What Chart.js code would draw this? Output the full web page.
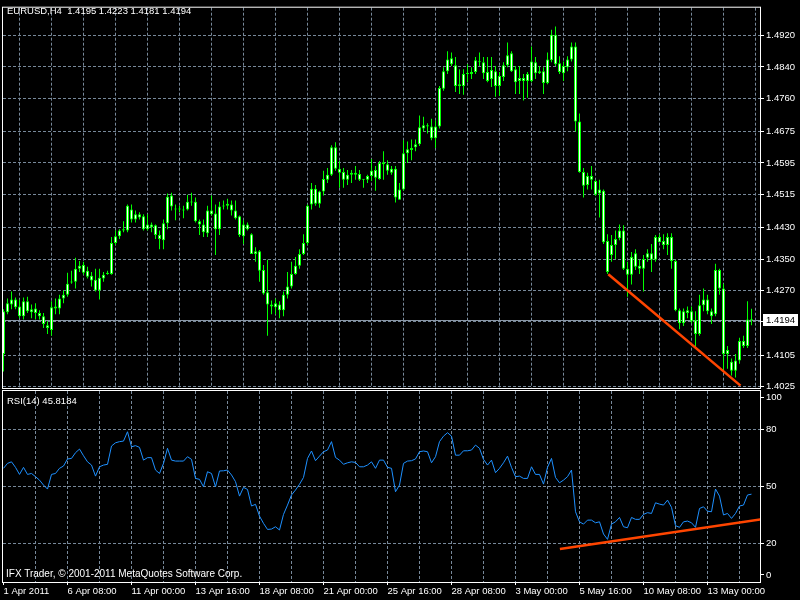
<!DOCTYPE html>
<html>
<head>
<meta charset="utf-8">
<script src="https://cdn.jsdelivr.net/npm/chart.js@4.4.0/dist/chart.umd.min.js"></script>
<style>
html,body{margin:0;padding:0;background:#000;}
#wrap{position:relative;width:800px;height:600px;background:#000;overflow:hidden;font-family:"Liberation Sans",Arial,sans-serif;}
canvas{position:absolute;left:0;top:0;}
.lbl{position:absolute;color:#fff;font-size:9.5px;line-height:1;white-space:pre;}
</style>
</head>
<body>
<div id="wrap">
<canvas id="Precio" width="800" height="600"></canvas>
<canvas id="Rsi" width="800" height="600"></canvas>
<div class="lbl" id="hdr" style="left:7px;top:6px"></div>
<div class="lbl" id="rsiHdr" style="left:7px;top:396px"></div>
<div class="lbl" style="left:6px;top:569px;font-size:10px">IFX Trader, © 2001-2011 MetaQuotes Software Corp.</div>
</div>
<script>
const symbol = 'EURUSD,H4';

const open = [
1.4108,1.4214,1.4234,1.4247,1.4229,1.4204,1.4242,1.4214,1.4224,1.4212,
1.4204,1.4181,1.4169,1.4224,1.4224,1.4249,1.4259,1.4290,1.4292,1.4325,
1.4335,1.4320,1.4307,1.4297,1.4270,1.4300,1.4312,1.4312,1.4391,1.4408,
1.4423,1.4423,1.4476,1.4451,1.4464,1.4459,1.4426,1.4438,1.4436,1.4411,
1.4398,1.4441,1.4512,1.4479,1.4476,1.4476,1.4476,1.4494,1.4496,1.4446,
1.4438,1.4416,1.4474,1.4466,1.4426,1.4484,1.4486,1.4489,1.4474,1.4459,
1.4408,1.4438,1.4413,1.4363,1.4370,1.4322,1.4265,1.4234,1.4227,1.4234,
1.4219,1.4259,1.4280,1.4312,1.4333,1.4363,1.4391,1.4489,1.4529,1.4491,
1.4522,1.4552,1.4565,1.4635,1.4580,1.4572,1.4552,1.4565,1.4570,1.4567,
1.4554,1.4552,1.4562,1.4577,1.4554,1.4592,1.4592,1.4570,1.4580,1.4501,
1.4527,1.4620,1.4628,1.4635,1.4643,1.4683,1.4691,1.4688,1.4658,1.4688,
1.4784,1.4829,1.4862,1.4844,1.4791,1.4791,1.4822,1.4822,1.4827,1.4852,
1.4852,1.4827,1.4809,1.4829,1.4791,1.4814,1.4844,1.4875,1.4834,1.4804,
1.4812,1.4804,1.4804,1.4852,1.4824,1.4829,1.4799,1.4857,1.4922,1.4849,
1.4824,1.4839,1.4859,1.4892,1.4701,1.4572,1.4539,1.4562,1.4549,1.4517,
1.4524,1.4396,1.4360,1.4386,1.4403,1.4423,1.4325,1.4310,1.4365,1.4325,
1.4325,1.4353,1.4365,1.4348,1.4406,1.4396,1.4386,1.4406,1.4345,1.4219,
1.4186,1.4212,1.4217,1.4194,1.4159,1.4232,1.4247,1.4217,1.4209,1.4322,
1.4275,1.4108,1.4088,1.4065,1.4091,1.4141,1.4128,1.4195
];
const high = [
1.4222,1.4249,1.4267,1.4252,1.4247,1.4252,1.4254,1.4234,1.4237,1.4219,
1.4212,1.4191,1.4242,1.4249,1.4259,1.4270,1.4315,1.4320,1.4353,1.4345,
1.4343,1.4330,1.4317,1.4325,1.4325,1.4317,1.4320,1.4406,1.4423,1.4426,
1.4446,1.4489,1.4489,1.4474,1.4469,1.4464,1.4464,1.4443,1.4438,1.4423,
1.4451,1.4517,1.4519,1.4489,1.4486,1.4486,1.4514,1.4519,1.4507,1.4451,
1.4451,1.4486,1.4512,1.4489,1.4496,1.4499,1.4504,1.4499,1.4499,1.4461,
1.4449,1.4443,1.4416,1.4380,1.4373,1.4335,1.4348,1.4244,1.4249,1.4242,
1.4267,1.4317,1.4343,1.4355,1.4375,1.4413,1.4489,1.4544,1.4539,1.4524,
1.4575,1.4582,1.4640,1.4648,1.4600,1.4582,1.4577,1.4577,1.4587,1.4577,
1.4554,1.4565,1.4605,1.4587,1.4600,1.4625,1.4602,1.4587,1.4587,1.4544,
1.4653,1.4650,1.4655,1.4655,1.4716,1.4713,1.4696,1.4708,1.4703,1.4791,
1.4839,1.4880,1.4877,1.4865,1.4834,1.4834,1.4847,1.4839,1.4865,1.4877,
1.4865,1.4865,1.4865,1.4842,1.4827,1.4852,1.4902,1.4880,1.4842,1.4842,
1.4822,1.4827,1.4892,1.4865,1.4842,1.4839,1.4877,1.4935,1.4943,1.4867,
1.4854,1.4867,1.4902,1.4902,1.4721,1.4582,1.4570,1.4587,1.4552,1.4552,
1.4527,1.4413,1.4411,1.4423,1.4438,1.4436,1.4343,1.4368,1.4375,1.4348,
1.4360,1.4375,1.4388,1.4411,1.4413,1.4413,1.4416,1.4416,1.4348,1.4224,
1.4224,1.4229,1.4229,1.4217,1.4259,1.4275,1.4259,1.4224,1.4338,1.4325,
1.4287,1.4128,1.4096,1.4108,1.4149,1.4154,1.4242,1.4223
];
const low = [
1.4063,1.4209,1.4222,1.4222,1.4199,1.4196,1.4212,1.4199,1.4196,1.4196,
1.4174,1.4159,1.4154,1.4209,1.4209,1.4237,1.4254,1.4287,1.4275,1.4317,
1.4310,1.4300,1.4280,1.4267,1.4247,1.4292,1.4310,1.4310,1.4386,1.4401,
1.4418,1.4418,1.4443,1.4443,1.4451,1.4423,1.4423,1.4418,1.4401,1.4375,
1.4375,1.4426,1.4474,1.4449,1.4469,1.4454,1.4474,1.4486,1.4443,1.4411,
1.4406,1.4406,1.4461,1.4360,1.4411,1.4476,1.4476,1.4461,1.4451,1.4406,
1.4388,1.4423,1.4363,1.4343,1.4292,1.4259,1.4154,1.4209,1.4209,1.4199,
1.4204,1.4249,1.4275,1.4310,1.4325,1.4360,1.4386,1.4476,1.4486,1.4481,
1.4512,1.4544,1.4562,1.4575,1.4532,1.4532,1.4539,1.4544,1.4552,1.4549,
1.4532,1.4544,1.4549,1.4524,1.4552,1.4552,1.4565,1.4565,1.4494,1.4501,
1.4524,1.4595,1.4602,1.4625,1.4638,1.4675,1.4670,1.4653,1.4633,1.4683,
1.4779,1.4822,1.4842,1.4776,1.4771,1.4769,1.4801,1.4809,1.4822,1.4842,
1.4809,1.4801,1.4789,1.4764,1.4766,1.4804,1.4839,1.4827,1.4771,1.4771,
1.4754,1.4761,1.4801,1.4809,1.4822,1.4771,1.4796,1.4852,1.4842,1.4822,
1.4804,1.4829,1.4854,1.4675,1.4570,1.4507,1.4527,1.4527,1.4512,1.4456,
1.4388,1.4312,1.4343,1.4350,1.4398,1.4322,1.4254,1.4285,1.4322,1.4312,
1.4267,1.4343,1.4317,1.4343,1.4393,1.4375,1.4360,1.4325,1.4217,1.4171,
1.4179,1.4199,1.4186,1.4121,1.4154,1.4217,1.4209,1.4184,1.4204,1.4259,
1.4065,1.4070,1.4053,1.4048,1.4083,1.4123,1.4123,1.4181
];
const close = [
1.4217,1.4237,1.4247,1.4227,1.4204,1.4242,1.4217,1.4222,1.4212,1.4204,
1.4184,1.4174,1.4227,1.4229,1.4249,1.4259,1.4287,1.4292,1.4325,1.4333,
1.4315,1.4305,1.4295,1.4270,1.4302,1.4310,1.4315,1.4391,1.4408,1.4423,
1.4426,1.4486,1.4451,1.4464,1.4456,1.4426,1.4438,1.4431,1.4411,1.4401,
1.4441,1.4509,1.4484,1.4476,1.4479,1.4474,1.4496,1.4496,1.4446,1.4438,
1.4418,1.4474,1.4464,1.4426,1.4484,1.4486,1.4491,1.4474,1.4454,1.4411,
1.4438,1.4426,1.4363,1.4370,1.4320,1.4262,1.4234,1.4229,1.4237,1.4219,
1.4259,1.4280,1.4312,1.4333,1.4363,1.4391,1.4486,1.4529,1.4491,1.4522,
1.4554,1.4565,1.4635,1.4580,1.4570,1.4552,1.4565,1.4570,1.4565,1.4552,
1.4552,1.4562,1.4575,1.4557,1.4595,1.4597,1.4575,1.4580,1.4507,1.4527,
1.4620,1.4630,1.4633,1.4643,1.4686,1.4691,1.4688,1.4658,1.4688,1.4786,
1.4829,1.4859,1.4847,1.4791,1.4796,1.4822,1.4824,1.4827,1.4857,1.4854,
1.4824,1.4804,1.4832,1.4791,1.4817,1.4844,1.4870,1.4829,1.4801,1.4812,
1.4804,1.4822,1.4854,1.4824,1.4829,1.4799,1.4859,1.4922,1.4847,1.4827,
1.4842,1.4859,1.4892,1.4701,1.4572,1.4537,1.4562,1.4552,1.4514,1.4527,
1.4393,1.4317,1.4386,1.4401,1.4423,1.4325,1.4310,1.4355,1.4330,1.4333,
1.4350,1.4365,1.4348,1.4406,1.4393,1.4386,1.4406,1.4345,1.4219,1.4186,
1.4217,1.4219,1.4191,1.4159,1.4232,1.4247,1.4217,1.4204,1.4322,1.4275,
1.4108,1.4118,1.4065,1.4091,1.4141,1.4128,1.4196,1.4194
];
const rsi = [
59.4,62.0,62.8,59.9,56.2,59.9,56.2,56.7,55.0,53.2,
50.6,48.5,56.2,56.7,59.4,60.6,64.3,64.6,67.6,69.5,
66.0,62.8,61.1,55.3,60.2,61.1,61.5,71.1,72.8,73.4,
73.7,78.6,70.7,71.3,70.4,63.7,65.0,65.0,58.5,56.7,
62.0,69.9,63.7,63.2,63.2,63.2,65.5,64.1,54.1,53.6,
49.7,57.6,56.7,49.7,58.0,58.1,58.5,55.9,52.4,44.8,
49.4,48.3,39.6,40.5,34.3,30.5,27.3,27.5,28.7,27.0,
35.2,40.1,45.4,48.0,51.0,54.6,64.6,68.5,63.4,65.8,
68.1,69.0,73.4,65.1,63.7,61.5,62.3,62.8,62.5,60.2,
60.2,61.1,62.8,59.4,63.7,63.7,59.9,59.4,47.1,50.6,
62.0,63.2,63.4,64.3,68.1,68.5,68.1,62.3,65.5,73.4,
76.3,78.1,76.3,66.3,66.3,68.6,68.6,69.0,71.6,69.9,
64.1,61.1,63.7,57.1,59.4,62.3,65.8,59.9,55.0,55.3,
54.1,54.1,60.2,56.2,56.2,51.1,59.9,64.6,54.6,51.8,
53.2,55.0,58.5,36.6,31.3,30.1,32.2,32.2,30.8,31.3,
24.9,22.1,30.1,31.3,33.6,28.7,28.2,33.6,32.6,32.6,
35.2,36.1,35.7,41.3,40.6,40.1,42.7,38.9,29.3,28.4,
31.3,31.7,30.8,28.4,38.3,39.2,36.9,36.6,48.5,44.8,
34.9,35.7,33.1,35.7,39.6,40.1,45.4,45.8184
];

// lineas de tendencia dibujadas a mano (barra, valor)
const trendPrice = [{x:151.2, y:1.4311}, {x:184.25, y:1.4027}];
const trendRsi = [{x:139.1, y:17.0}, {x:189.25, y:32.6}];

const priceTickLabels = ['1.4920','1.4840','1.4760','1.4675','1.4595','1.4515','1.4430','1.4350','1.4270','1.4190','1.4105','1.4025'];
const rsiLevels = [100, 80, 50, 20, 0];
const dateLabels = ['1 Apr 2011','6 Apr 08:00','11 Apr 00:00','13 Apr 16:00','18 Apr 08:00','21 Apr 00:00','25 Apr 16:00','28 Apr 08:00','3 May 00:00','5 May 16:00','10 May 08:00','13 May 00:00'];
const dateLabelBars = [0,16,32,48,64,80,96,112,128,144,160,176];
const gridBars = [8,16,24,32,40,48,56,64,72,80,88,96,104,112,120,128,136,144,152,160,168,176,184];

const GRID = '#778899';
const LIME = '#00ff00';
const TREND = '#ff4500';
const FONT = {family:'Liberation Sans, Arial, sans-serif', size:9.5};
const last = close.length - 1;

document.getElementById('hdr').textContent = symbol + '  ' + [open[last], high[last], low[last], close[last]].map(v => v.toFixed(4)).join(' ');
document.getElementById('rsiHdr').textContent = 'RSI(14) ' + rsi[last].toFixed(4);

const wicks = high.map((h, i) => ({x:i, y:[low[i], h]}));
const bodies = open.map((o, i) => ({x:i, y:[Math.min(o, close[i]), Math.max(o, close[i])]}));

const frame = {
    id:'frame',
    afterDraw(chart){
        const {ctx, chartArea:a} = chart;
        ctx.save();
        ctx.strokeStyle = '#ffffff';
        ctx.lineWidth = 1;
        ctx.strokeRect(a.left - 0.5, a.top - 0.5, a.right - a.left + 1, a.bottom - a.top + 1);
        ctx.restore();
    }
};

const priceLine = {
    id:'priceLine',
    beforeDatasetsDraw(chart){
        const {ctx, chartArea:a, scales} = chart;
        const py = Math.round(scales.y.getPixelForValue(close[last])) + 0.5;
        ctx.save();
        ctx.strokeStyle = '#8a97a6';
        ctx.lineWidth = 1;
        ctx.beginPath();
        ctx.moveTo(a.left, py);
        ctx.lineTo(a.right, py);
        ctx.stroke();
        ctx.restore();
    },
    afterDraw(chart){
        const {ctx, chartArea:a, scales} = chart;
        const py = Math.round(scales.y.getPixelForValue(close[last]));
        ctx.save();
        ctx.fillStyle = '#ffffff';
        ctx.fillRect(a.right + 3, py - 6, 35, 12);
        ctx.fillStyle = '#000000';
        ctx.font = FONT.size + 'px ' + FONT.family;
        ctx.textBaseline = 'middle';
        ctx.fillText(close[last].toFixed(4), a.right + 6, py + 0.5);
        ctx.restore();
    }
};

const xCommon = {
    type:'linear', min:-0.125, max:189.125, offset:false,
    border:{display:false, dash:[3,2]}
};

const chartPrecio = new Chart(document.getElementById('Precio'), {
    type:'bar',
    data:{
        datasets:[
            {type:'line', data:trendPrice, borderColor:TREND, borderWidth:2.5, pointRadius:0, order:0},
            {data:bodies, barThickness:3, borderWidth:1, borderColor:LIME, backgroundColor:'#ffffff',
             borderSkipped:false, grouped:false, minBarLength:1, inflateAmount:0, order:1},
            {data:wicks, barThickness:1, borderWidth:0, backgroundColor:LIME, grouped:false, inflateAmount:0, order:2}
        ]
    },
    options:{
        responsive:false, animation:false, events:[],
        layout:{autoPadding:false, padding:{left:3, top:3, right:0, bottom:212}},
        plugins:{legend:{display:false}, tooltip:{enabled:false}},
        scales:{
            x:Object.assign({}, xCommon, {
                afterBuildTicks:s => { s.ticks = gridBars.map(v => ({value:v})); },
                afterFit:s => { s.height = 0; },
                ticks:{display:false},
                grid:{color:GRID, drawTicks:false}
            }),
            y:{
                position:'right', min:1.4021, max:1.4991,
                afterBuildTicks:s => { s.ticks = priceTickLabels.map(t => ({value:parseFloat(t)})); },
                afterFit:s => { s.width = 40; },
                ticks:{color:'#ffffff', font:FONT, padding:2, callback:(v, i) => priceTickLabels[i]},
                grid:{color:GRID, tickColor:'#ffffff', tickLength:4, tickBorderDash:[]},
                border:{display:false, dash:[3,2]}
            }
        }
    },
    plugins:[priceLine, frame]
});

const chartRsi = new Chart(document.getElementById('Rsi'), {
    type:'line',
    data:{
        datasets:[
            {data:trendRsi, borderColor:TREND, borderWidth:2.5, pointRadius:0, order:0},
            {data:rsi.map((v, i) => ({x:i, y:v})), borderColor:'#1e90ff', borderWidth:1, pointRadius:0, tension:0, order:1}
        ]
    },
    options:{
        responsive:false, animation:false, events:[],
        layout:{autoPadding:false, padding:{left:3, top:391, right:0, bottom:0}},
        plugins:{legend:{display:false}, tooltip:{enabled:false}},
        scales:{
            x:Object.assign({}, xCommon, {
                afterBuildTicks:s => { s.ticks = [0].concat(gridBars).map(v => ({value:v})); },
                afterFit:s => { s.height = 18; },
                ticks:{color:'#ffffff', font:FONT, align:'start', padding:1, maxRotation:0, minRotation:0, autoSkip:false,
                    callback:v => { const k = dateLabelBars.indexOf(v); return k < 0 ? '' : dateLabels[k]; }},
                grid:{
                    color:c => (c.tick && c.tick.value === 0) ? 'rgba(0,0,0,0)' : GRID,
                    tickColor:c => (c.tick && dateLabelBars.includes(c.tick.value)) ? '#ffffff' : 'rgba(0,0,0,0)',
                    tickLength:3, tickBorderDash:[]
                }
            }),
            y:{
                position:'right', min:-0.3, max:100,
                // 100 y 0 se escriben un poco hacia dentro, como en el terminal
                afterBuildTicks:s => { s.ticks = rsiLevels.map(v => ({value: v === 100 ? 96.8 : v === 0 ? 3.4 : v})); },
                afterFit:s => { s.width = 40; },
                ticks:{color:'#ffffff', font:FONT, padding:2, callback:(v, i) => String(rsiLevels[i])},
                grid:{
                    color:c => (c.tick && (c.tick.value > 95 || c.tick.value < 5)) ? 'rgba(0,0,0,0)' : GRID,
                    tickColor:'#ffffff', tickLength:4, tickBorderDash:[]
                },
                border:{display:false, dash:[3,2]}
            }
        }
    },
    plugins:[frame]
});
</script>
</body>
</html>
